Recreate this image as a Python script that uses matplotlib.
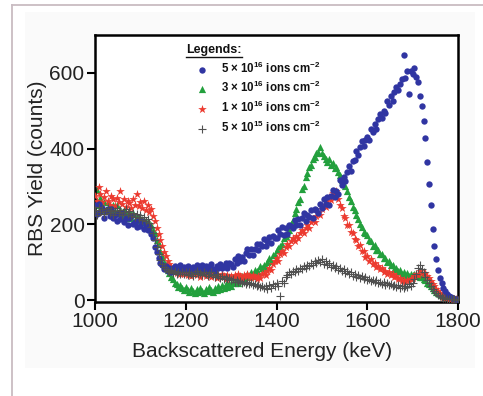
import numpy as np
import matplotlib
matplotlib.use("Agg")
import matplotlib.pyplot as plt
from matplotlib import font_manager
from matplotlib.lines import Line2D
from matplotlib.patches import Rectangle

# ---- data: RBS spectra, one channel every 4 keV from 1000 to 1800 keV ----
energy_kev = np.arange(1000, 1801, 4)

yield_5e16 = [
    250, 228, 253, 233, 244, 217, 235, 241, 221, 241, 216, 225, 209, 230, 213, 229, 207, 217, 198, 217, 221, 201, 206, 194, 212,
    196, 208, 189, 199, 186, 192, 174, 163, 139, 126, 110, 97, 92, 81, 89, 77, 86, 74, 85, 91, 77, 83, 94, 79, 87,
    79, 90, 81, 73, 88, 79, 93, 76, 85, 94, 80, 89, 76, 87, 95, 82, 78, 90, 84, 96, 85, 91, 99, 86, 97,
    95, 87, 108, 99, 117, 102, 115, 103, 124, 134, 119, 136, 118, 136, 147, 132, 149, 143, 162, 143, 157, 167, 152, 170, 164,
    164, 184, 174, 193, 173, 190, 175, 199, 196, 190, 212, 199, 215, 198, 218, 230, 210, 224, 219, 237, 218, 240, 237, 230, 255,
    242, 266, 254, 271, 252, 276, 290, 273, 288, 280, 318, 303, 326, 315, 337, 355, 341, 368, 369, 393, 382, 403, 420, 407, 423,
    431, 424, 453, 445, 465, 452, 478, 492, 482, 500, 495, 527, 516, 538, 525, 549, 563, 555, 571, 585, 648, 586, 604, 543, 606,
    596, 612, 588, 576, 540, 512, 474, 428, 365, 306, 250, 188, 142, 108, 80, 58, 44, 32, 23, 16, 11, 7, 5, 3, 2,
    1,
]

yield_3e16 = [
    264, 290, 251, 269, 245, 259, 239, 259, 244, 234, 252, 235, 251, 229, 239, 219, 238, 230, 217, 236, 218, 229, 206, 221, 211,
    218, 207, 212, 201, 208, 197, 199, 186, 178, 160, 147, 129, 116, 101, 92, 79, 71, 61, 56, 46, 43, 35, 39, 31, 28,
    34, 26, 21, 31, 24, 19, 29, 22, 33, 25, 20, 30, 24, 35, 27, 22, 32, 26, 37, 29, 40, 32, 42, 35, 45,
    37, 48, 44, 55, 45, 55, 64, 51, 62, 69, 61, 73, 63, 80, 78, 75, 91, 84, 94, 87, 101, 111, 103, 118, 120,
    131, 138, 142, 149, 163, 170, 174, 186, 202, 211, 230, 240, 259, 268, 294, 302, 326, 335, 351, 358, 373, 377, 389, 392, 403,
    388, 380, 372, 365, 372, 356, 361, 348, 352, 338, 331, 318, 322, 300, 288, 272, 262, 247, 238, 224, 215, 201, 194, 181, 176,
    171, 158, 156, 143, 145, 132, 131, 122, 121, 110, 111, 100, 102, 92, 93, 83, 85, 76, 79, 70, 74, 66, 71, 64, 69,
    66, 70, 63, 67, 60, 62, 55, 52, 46, 42, 37, 31, 27, 22, 19, 15, 13, 10, 9, 7, 6, 5, 4, 4, 3,
    3,
]

yield_1e16 = [
    276, 262, 298, 281, 258, 272, 289, 263, 251, 275, 266, 248, 270, 259, 287, 254, 268, 246, 262, 257, 243, 266, 252, 279, 249,
    258, 244, 262, 238, 250, 232, 241, 222, 208, 191, 174, 160, 142, 128, 116, 104, 95, 88, 81, 77, 72, 79, 70, 76, 68,
    74, 66, 72, 63, 70, 76, 65, 71, 62, 69, 74, 64, 70, 66, 60, 72, 65, 58, 67, 61, 70, 63, 57, 66, 60,
    64, 58, 67, 61, 70, 63, 57, 66, 60, 69, 64, 58, 67, 61, 56, 64, 59, 68, 72, 66, 78, 85, 80, 95, 103,
    110, 104, 121, 130, 124, 141, 149, 142, 156, 163, 157, 170, 165, 178, 184, 176, 190, 198, 191, 205, 212, 206, 221, 230, 224,
    241, 252, 246, 263, 272, 265, 283, 276, 289, 268, 251, 242, 221, 218, 199, 197, 180, 178, 161, 160, 144, 146, 129, 130, 115,
    116, 104, 108, 96, 99, 88, 90, 81, 84, 75, 78, 70, 73, 65, 68, 61, 64, 56, 58, 51, 54, 49, 53, 50, 56,
    59, 64, 70, 66, 76, 71, 68, 72, 64, 58, 50, 42, 36, 30, 24, 18, 13, 9, 6, 5, 4, 3, 3, 2, 2,
    1,
]

yield_5e15 = [
    238, 226, 247, 233, 241, 228, 236, 244, 230, 239, 225, 234, 243, 229, 237, 224, 232, 241, 227, 235, 221, 230, 219, 227, 216,
    224, 212, 220, 208, 214, 203, 192, 176, 158, 139, 121, 106, 95, 88, 82, 78, 74, 80, 72, 77, 70, 75, 68, 74, 70,
    73, 67, 75, 69, 64, 72, 76, 68, 71, 65, 73, 70, 64, 68, 74, 66, 62, 69, 64, 58, 63, 57, 61, 55, 59,
    52, 56, 49, 53, 47, 51, 45, 49, 43, 47, 42, 45, 39, 43, 37, 40, 34, 38, 31, 36, 30, 39, 33, 42, 36,
    45, 38, 12, 50, 46, 60, 66, 73, 69, 78, 74, 82, 77, 86, 81, 90, 85, 94, 89, 98, 93, 104, 97, 106, 100,
    108, 96, 102, 92, 98, 88, 94, 84, 90, 80, 86, 77, 82, 72, 78, 68, 74, 64, 70, 61, 66, 58, 63, 55, 60,
    52, 57, 50, 54, 47, 52, 45, 49, 43, 47, 41, 45, 39, 43, 37, 41, 35, 39, 33, 37, 32, 36, 34, 42, 38,
    46, 55, 68, 84, 93, 81, 74, 62, 52, 44, 36, 29, 23, 18, 14, 10, 8, 6, 5, 4, 3, 3, 2, 2, 1,
    1,
]

fluence_labels = [
    "5 × 10$^{16}$ ions cm$^{-2}$",
    "3 × 10$^{16}$ ions cm$^{-2}$",
    "1 × 10$^{16}$ ions cm$^{-2}$",
    "5 × 10$^{15}$ ions cm$^{-2}$",
]
x_ticks = [1000, 1200, 1400, 1600, 1800]
y_ticks = [0, 200, 400, 600]

# ---- fonts ----
installed = {f.name for f in font_manager.fontManager.ttflist}
if "Liberation Sans Narrow" in installed:
    axis_font, axis_size = "Liberation Sans Narrow", 17
else:
    axis_font, axis_size = "Liberation Sans", 15
plt.rcParams["font.family"] = ["Liberation Sans", "DejaVu Sans"]
plt.rcParams["mathtext.default"] = "regular"

W, H = 483, 396
fig = plt.figure(figsize=(W / 100, H / 100), dpi=100)
fig.patch.set_facecolor("white")

# page frame and faint panel behind the plot
fig.add_artist(Rectangle((25 / W, 1 - 368 / H), 450 / W, 356 / H,
                         transform=fig.transFigure, facecolor="#fafafa",
                         edgecolor="none", zorder=0))
fig.add_artist(Line2D([12 / W, 1], [1 - 5 / H, 1 - 5 / H], transform=fig.transFigure,
                      color="#c9bcc2", lw=1.3))
fig.add_artist(Line2D([12 / W, 12 / W], [0, 1 - 5 / H], transform=fig.transFigure,
                      color="#c9bcc2", lw=1.3))

ax = fig.add_axes([95 / W, 1 - 302 / H, 363 / W, 267 / H])
ax.set_facecolor("white")

series = [
    (yield_3e16, "^", "#23a03d", 27, 2, fluence_labels[1]),
    (yield_1e16, "*", "#ec3a2f", 42, 3, fluence_labels[2]),
    (yield_5e16, "o", "#3035a2", 21, 4, fluence_labels[0]),
    (yield_5e15, "+", "#505050", 30, 5, fluence_labels[3]),
]
handles = {}
for vals, mk, col, size, z, lab in series:
    if mk == "+":
        h = ax.scatter(energy_kev, vals, marker=mk, s=size, c=col, linewidths=0.8, zorder=z, label=lab)
    else:
        h = ax.scatter(energy_kev, vals, marker=mk, s=size, c=col, linewidths=0, zorder=z, label=lab)
    handles[lab] = h

ax.set_xlim(1000, 1800)
ax.set_ylim(-5, 700)
ax.set_xticks(x_ticks)
ax.set_yticks(y_ticks)
for side in ["left", "bottom", "right", "top"]:
    ax.spines[side].set_linewidth(1.8)
ax.tick_params(axis="both", which="major", direction="out", length=6, width=1.5,
               labelsize=axis_size, pad=1.5, top=False, right=False)
for lbl in ax.get_xticklabels() + ax.get_yticklabels():
    lbl.set_fontfamily([axis_font, "DejaVu Sans"])
    lbl.set_color("#222222")
ax.set_xlabel("Backscattered Energy (keV)", fontsize=axis_size, family=[axis_font, "DejaVu Sans"],
              color="#222222")
ax.xaxis.set_label_coords(0.46, -0.148)
ax.set_ylabel("RBS Yield (counts)", fontsize=axis_size, family=[axis_font, "DejaVu Sans"],
              color="#222222", labelpad=2)

leg = ax.legend([handles[l] for l in fluence_labels], fluence_labels,
                loc="upper left", bbox_to_anchor=(0.28, 0.905), frameon=False,
                borderpad=0, borderaxespad=0, handlelength=1.0, handletextpad=1.1,
                labelspacing=0.4, scatterpoints=1,
                prop={"family": "Liberation Sans", "weight": "bold", "size": 8.3})
for t in leg.get_texts():
    t.set_color("#111111")

title = ax.text(0.2507, 0.9326, "Legends:", transform=ax.transAxes, fontsize=9,
                fontweight="bold", ha="left", va="baseline", color="#111111")
fig.canvas.draw()
bb = title.get_window_extent()
y_ul = bb.y0 - 1.5
fig.add_artist(Line2D([bb.x0 / W, bb.x1 / W], [y_ul / H, y_ul / H],
                      transform=fig.transFigure, color="#111111", lw=1.0))

fig.savefig("out.png", dpi=100, facecolor=fig.get_facecolor())
